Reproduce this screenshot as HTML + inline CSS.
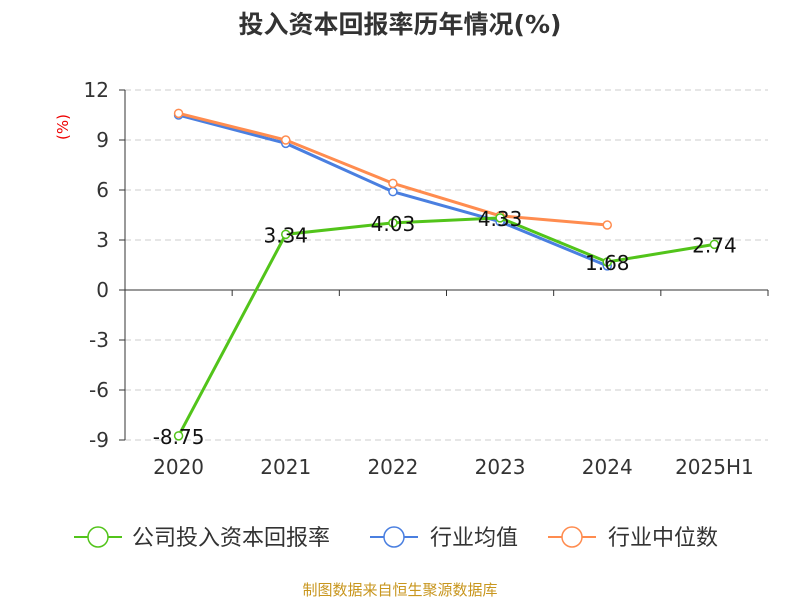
<!DOCTYPE html>
<html><head><meta charset="utf-8"><style>
body{margin:0;background:#fff;font-family:"DejaVu Sans","Noto Sans CJK SC",sans-serif}
</style></head><body>
<svg width="800" height="600" xmlns="http://www.w3.org/2000/svg" style="font-family:'DejaVu Sans','Noto Sans CJK SC',sans-serif">
<rect width="800" height="600" fill="#fff"/>
<text x="400" y="33" text-anchor="middle" font-size="25" font-weight="bold" fill="#333">投入资本回报率历年情况(%)</text>
<text x="68" y="127" fill="#e00" font-size="15" transform="rotate(-90 68 127)" text-anchor="middle">(%)</text>
<g id="grid"></g><g id="axes"></g><g id="series"></g>
<g font-size="22" fill="#333">
<g><line x1="74" y1="537" x2="122" y2="537" stroke="#52c41a" stroke-width="2"/><circle cx="98" cy="537" r="10" fill="#fff" stroke="#52c41a" stroke-width="1.5"/><text x="132" y="545">公司投入资本回报率</text></g>
<g><line x1="370" y1="537" x2="418" y2="537" stroke="#4a7fe0" stroke-width="2"/><circle cx="394" cy="537" r="10" fill="#fff" stroke="#4a7fe0" stroke-width="1.5"/><text x="430" y="545">行业均值</text></g>
<g><line x1="548" y1="537" x2="596" y2="537" stroke="#ff8c4f" stroke-width="2"/><circle cx="572" cy="537" r="10" fill="#fff" stroke="#ff8c4f" stroke-width="1.5"/><text x="608" y="545">行业中位数</text></g>
</g>
<text x="400" y="595" text-anchor="middle" font-size="15" fill="#c8961e">制图数据来自恒生聚源数据库</text>
</svg>
<script>
const categories=["2020","2021","2022","2023","2024","2025H1"];
const companyValues=[-8.75,3.34,4.03,4.33,1.68,2.74];
const industryAvg=[10.5,8.8,5.9,4.1,1.45];
const industryMedian=[10.6,9.0,6.4,4.45,3.9];
const yTicks=[12,9,6,3,0,-3,-6,-9];
const NS="http://www.w3.org/2000/svg";
const L=125,R=768,T=90,B=440,yMin=-9,yMax=12;
const bw=(R-L)/categories.length;
const xs=i=>L+bw*(i+0.5);
const ys=v=>B-(v-yMin)/(yMax-yMin)*(B-T);
function mk(tag,attrs,parent){const e=document.createElementNS(NS,tag);for(const k in attrs)e.setAttribute(k,attrs[k]);parent.appendChild(e);return e;}
const grid=document.getElementById('grid'),axes=document.getElementById('axes'),series=document.getElementById('series');
yTicks.forEach(t=>{
  if(t!==0){const g=mk('line',{x1:L,x2:R,y1:ys(t),y2:ys(t),stroke:'#ccc','stroke-dasharray':'6,4'},grid);
  
  }
  const tk=mk('line',{x1:L-6,x2:L,y1:ys(t),y2:ys(t),stroke:'#333'},axes);
  
  
  const tx=mk('text',{x:L-16,y:ys(t)+7,'text-anchor':'end','font-size':20,fill:'#333'},axes);
  tx.textContent=t;
  
  
});
const ya=mk('line',{x1:L,x2:L,y1:T,y2:B,stroke:'#333'},axes);


const xa=mk('line',{x1:L,x2:R,y1:ys(0),y2:ys(0),stroke:'#333'},axes);


for(let i=0;i<=categories.length;i++){const tk=mk('line',{x1:L+bw*i,x2:L+bw*i,y1:ys(0),y2:ys(0)+6,stroke:'#333'},axes);

}
categories.forEach((c,i)=>{const t=mk('text',{x:xs(i),y:474,'text-anchor':'middle','font-size':20,fill:'#333'},axes);t.textContent=c;

});
function drawLine(vals,color,name,labels){
  const p=mk('polyline',{points:vals.map((v,i)=>xs(i)+','+ys(v)).join(' '),fill:'none',stroke:color,'stroke-width':3},series);
  
  
  vals.forEach((v,i)=>{const c=mk('circle',{cx:xs(i),cy:ys(v),r:4,fill:'#fff',stroke:color,'stroke-width':1.5},series);
  
  
  if(labels){const t=mk('text',{x:xs(i),y:ys(v)+8,'text-anchor':'middle','font-size':20,fill:'#111'},series);t.textContent=v.toFixed(2);
  
  }});
}
drawLine(industryAvg,'#4a7fe0','industry-avg',false);
drawLine(industryMedian,'#ff8c4f','industry-median',false);
drawLine(companyValues,'#52c41a','company',true);
</script>
</body></html>
